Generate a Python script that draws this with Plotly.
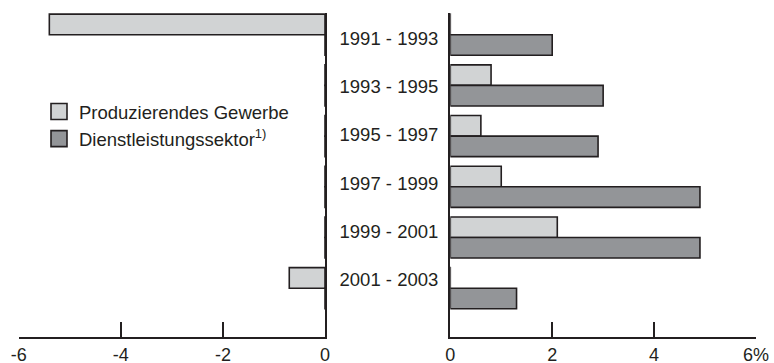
import plotly.graph_objects as go

periods = ["1991 - 1993", "1993 - 1995", "1995 - 1997", "1997 - 1999", "1999 - 2001", "2001 - 2003"]
produzierend = [-5.4, 0.8, 0.6, 1.0, 2.1, -0.7]
dienstleistung = [2.0, 3.0, 2.9, 4.9, 4.9, 1.3]
left_ticks = [-6, -4, -2, 0]
left_ticktext = ["-6", "-4", "-2", "0"]
right_ticks = [0, 2, 4, 6]
right_ticktext = ["0", "2", "4", "6%"]

name_prod = "Produzierendes Gewerbe"
name_dien = "Dienstleistungssektor<sup>1)</sup>"

LIGHT = "#d1d3d4"
DARK = "#939598"
INK = "#231f20"
FONT = "Liberation Sans, Arial, sans-serif"
FS = 18.5
FS_TICK = 18

W, H = 774, 363
top_px, bot_px = 13, 337
left_x0, left_x1 = 18.7, 325
right_x0, right_x1 = 450.3, 756

fig = go.Figure()

for xa, ya in (("x", "y"), ("x2", "y2")):
    fig.add_trace(go.Bar(y=periods, x=produzierend, orientation="h", name=name_prod,
                         marker=dict(color=LIGHT, line=dict(color=INK, width=1.6)),
                         xaxis=xa, yaxis=ya, showlegend=False, hoverinfo="skip"))
    fig.add_trace(go.Bar(y=periods, x=dienstleistung, orientation="h", name=name_dien,
                         marker=dict(color=DARK, line=dict(color=INK, width=1.6)),
                         xaxis=xa, yaxis=ya, showlegend=False, hoverinfo="skip"))

# category labels on an overlaid axis
fig.add_trace(go.Scatter(y=periods, x=[None] * len(periods), xaxis="x2", yaxis="y3",
                         mode="markers", showlegend=False, hoverinfo="skip"))

# legend entries
fig.add_trace(go.Scatter(x=[None], y=[None], mode="markers", name=name_prod,
                         marker=dict(symbol="square", size=16, color=LIGHT, line=dict(color=INK, width=1.6))))
fig.add_trace(go.Scatter(x=[None], y=[None], mode="markers", name=name_dien,
                         marker=dict(symbol="square", size=16, color=DARK, line=dict(color=INK, width=1.6))))

ydom = [(H - bot_px) / H, (H - top_px) / H]
per = 50.7
c0 = 34.7
yr = [5 + (bot_px - (c0 + 5 * per)) / per, -(c0 - top_px) / per]
lper = 48.2
l0 = 38.5
yr3 = [5 + (bot_px - (l0 + 5 * lper)) / lper, -(l0 - top_px) / lper]

axis_common = dict(showline=True, linecolor=INK, linewidth=1.8, ticks="inside", ticklen=15,
                   tickwidth=1.6, tickcolor=INK, showgrid=False, zeroline=False, automargin=False,
                   tickfont=dict(size=FS_TICK, color=INK, family=FONT), fixedrange=True)

fig.update_layout(
    width=W, height=H,
    margin=dict(l=0, r=0, t=0, b=0, autoexpand=False),
    paper_bgcolor="white", plot_bgcolor="white",
    barmode="group", bargap=0.19, bargroupgap=0,
    font=dict(family=FONT, size=FS, color=INK),
    showlegend=True,
    legend=dict(x=39 / W, y=1 - 93 / H, xanchor="left", yanchor="top",
                bgcolor="rgba(0,0,0,0)", font=dict(size=FS, color=INK, family=FONT),
                itemclick=False, itemdoubleclick=False),
    xaxis=dict(domain=[left_x0 / W, left_x1 / W], range=[-6, 0], tickvals=left_ticks,
               ticktext=left_ticktext, anchor="y", **axis_common),
    yaxis=dict(domain=ydom, range=yr, side="right", anchor="x", showline=True, linecolor=INK,
               linewidth=1.8, ticks="", showticklabels=False, showgrid=False, zeroline=False,
               automargin=False, type="category", categoryorder="array", categoryarray=periods,
               fixedrange=True),
    xaxis2=dict(domain=[right_x0 / W, right_x1 / W], range=[0, 6], tickvals=right_ticks,
                ticktext=right_ticktext, anchor="y2", **axis_common),
    yaxis2=dict(domain=ydom, range=yr, side="left", anchor="x2", showline=True, linecolor=INK,
                linewidth=1.8, ticks="", showticklabels=False, showgrid=False, zeroline=False,
                automargin=False, type="category", categoryorder="array", categoryarray=periods,
                fixedrange=True),
    yaxis3=dict(overlaying="y2", anchor="x2", side="left", range=yr3, type="category",
                categoryorder="array", categoryarray=periods, showline=False, ticks="",
                showgrid=False, zeroline=False, ticklabelstandoff=11, automargin=False,
                tickfont=dict(size=FS, color=INK, family=FONT), fixedrange=True),
)

fig.write_html("out.html", config={"displayModeBar": False},
               post_script="document.body.style.margin='0';document.body.style.overflow='hidden';")
